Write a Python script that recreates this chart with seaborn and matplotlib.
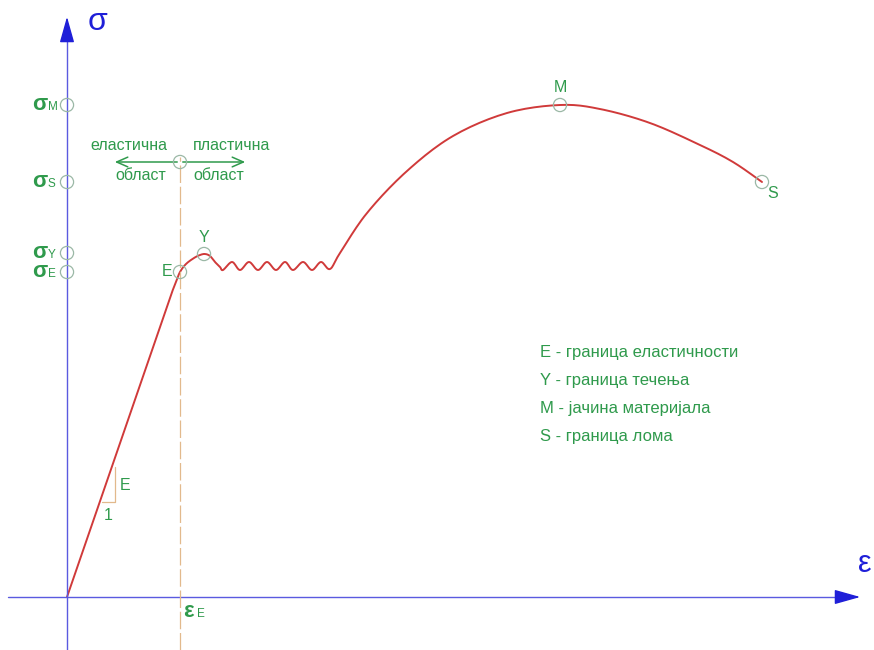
import numpy as np
import pandas as pd
import matplotlib
matplotlib.use("Agg")
import matplotlib.pyplot as plt
import seaborn as sns

# Stress-strain curve, in drawing units (strain to the right, stress upward)
curve_eps = [0, 105, 109, 113, 119, 127, 133, 138, 143, 148, 153,
             156, 165, 173, 182, 191, 200, 209, 218, 226, 236, 245, 254, 263,
             273, 300, 340, 386, 440, 493,
             533, 583, 633, 666, 695]
curve_sig = [0, 305, 315, 325, 333, 339, 342, 343, 341, 335, 330,
             327, 335, 327, 335, 327, 335, 327, 335, 327, 335, 327, 335, 328,
             344, 384, 426, 461, 484, 492,
             488, 474, 452, 435, 415]

# Characteristic points
point_names = ["E", "Y", "M", "S"]
point_eps = [113, 137, 493, 695]
point_sig = [325, 343, 492, 415]

# Stress levels marked on the sigma axis
level_names = ["M", "S", "Y", "E"]
level_sig = [492, 415, 344, 325]

eps_E = 113

legend_lines = ["E - граница еластичности", "Y - граница течења",
                "M - јачина материјала", "S - граница лома"]

GREEN = "#2f9a4c"
RED = "#d03a3a"
BLUE = "#1f1fd8"
AXIS = "#5a5ae0"
TAN = "#e2b98c"
RING = "#9bb8a6"

sns.set_style("white")
plt.rcParams["font.family"] = ["Liberation Sans", "DejaVu Sans"]

fig = plt.figure(figsize=(8.74, 6.5), dpi=100)
ax = fig.add_axes([0, 0, 1, 1])
ax.set_xlim(-67, 807)
ax.set_ylim(-53, 597)
ax.axis("off")


def smooth(xs, ys, n=12):
    # Catmull-Rom pass through the listed points for a smooth drawn line
    x = np.asarray(xs, float)
    y = np.asarray(ys, float)
    px = np.concatenate([[x[0]], x, [x[-1]]])
    py = np.concatenate([[y[0]], y, [y[-1]]])
    ox, oy = [], []
    t = np.linspace(0, 1, n, endpoint=False)
    for i in range(1, len(px) - 2):
        p0, p1, p2, p3 = (np.array([px[j], py[j]]) for j in range(i - 1, i + 3))
        for tt in t:
            pt = 0.5 * ((2 * p1) + (-p0 + p2) * tt + (2 * p0 - 5 * p1 + 4 * p2 - p3) * tt ** 2
                        + (-p0 + 3 * p1 - 3 * p2 + p3) * tt ** 3)
            ox.append(pt[0]); oy.append(pt[1])
    ox.append(x[-1]); oy.append(y[-1])
    return ox, oy


# linear part kept straight, the rest smoothed
sx, sy = smooth(curve_eps[1:], curve_sig[1:])
df = pd.DataFrame({"eps": [curve_eps[0]] + sx, "sig": [curve_sig[0]] + sy})
sns.lineplot(data=df, x="eps", y="sig", sort=False, color=RED, lw=1.4, ax=ax)

# axes with arrows
ax.plot([-59, 780], [0, 0], color=AXIS, lw=1.0)
ax.plot([0, 0], [-53, 560], color=AXIS, lw=1.0)
ax.annotate("", xy=(796, 0), xytext=(770, 0),
            arrowprops=dict(arrowstyle="-|>,head_length=1.6,head_width=0.45",
                            color=BLUE, lw=1.0))
ax.annotate("", xy=(0, 583), xytext=(0, 556),
            arrowprops=dict(arrowstyle="-|>,head_length=1.6,head_width=0.45",
                            color=BLUE, lw=1.0))
ax.text(21, 575, "σ", color=BLUE, fontsize=23, ha="left", va="center")
ax.text(798, 33, "ε", color=BLUE, fontsize=22, ha="center", va="center")

# boundary between elastic and plastic region
ax.plot([eps_E, eps_E], [-53, 440], color=TAN, lw=0.9, ls=(0, (14, 3)))
ax.annotate("", xy=(eps_E - 68, 435), xytext=(eps_E, 435),
            arrowprops=dict(arrowstyle="->,head_length=0.8,head_width=0.35", color=GREEN, lw=1.1))
ax.annotate("", xy=(eps_E + 68, 435), xytext=(eps_E, 435),
            arrowprops=dict(arrowstyle="->,head_length=0.8,head_width=0.35", color=GREEN, lw=1.1))
ax.text(eps_E - 13, 451, "еластична", color=GREEN, fontsize=11.5, ha="right", va="center")
ax.text(eps_E + 13, 451, "пластична", color=GREEN, fontsize=11.5, ha="left", va="center")
ax.text(eps_E - 14, 421, "област", color=GREEN, fontsize=11.5, ha="right", va="center")
ax.text(eps_E + 13, 421, "област", color=GREEN, fontsize=11.5, ha="left", va="center")

# slope triangle on the elastic line
ax.plot([35, 48, 48], [95, 95, 130], color=TAN, lw=0.9)
ax.text(53, 112, "E", color=GREEN, fontsize=11.5, ha="left", va="center")
ax.text(41, 82, "1", color=GREEN, fontsize=11.5, ha="center", va="center")

# markers on curve and axis
ring = dict(s=90, facecolors="none", edgecolors=RING, linewidths=0.9, zorder=5)
ax.scatter(point_eps, point_sig, **ring)
ax.scatter([0] * len(level_sig), level_sig, **ring)
ax.scatter([eps_E], [435], **ring)

ax.text(point_eps[0] - 8, point_sig[0], "E", color=GREEN, fontsize=11.5, ha="right", va="center")
ax.text(point_eps[1], point_sig[1] + 17, "Y", color=GREEN, fontsize=11.5, ha="center", va="center")
ax.text(point_eps[2], point_sig[2] + 17, "M", color=GREEN, fontsize=11.5, ha="center", va="center")
ax.text(point_eps[3] + 11, point_sig[3] - 11, "S", color=GREEN, fontsize=11.5, ha="center", va="center")

for name, s in zip(level_names, level_sig):
    ax.text(-20, s - 5, "σ", color=GREEN, fontsize=16, fontweight="bold",
            ha="right", va="baseline")
    ax.text(-19, s - 5, name, color=GREEN, fontsize=8.5, ha="left", va="baseline")
ax.text(eps_E + 3, -20, "ε", color=GREEN, fontsize=16, fontweight="bold",
        ha="left", va="baseline")
ax.text(eps_E + 17, -20, "E", color=GREEN, fontsize=8.5, ha="left", va="baseline")

for i, line in enumerate(legend_lines):
    ax.text(473, 245 - 28 * i, line, color=GREEN, fontsize=12, ha="left", va="center")

fig.savefig("out.png", dpi=100)
